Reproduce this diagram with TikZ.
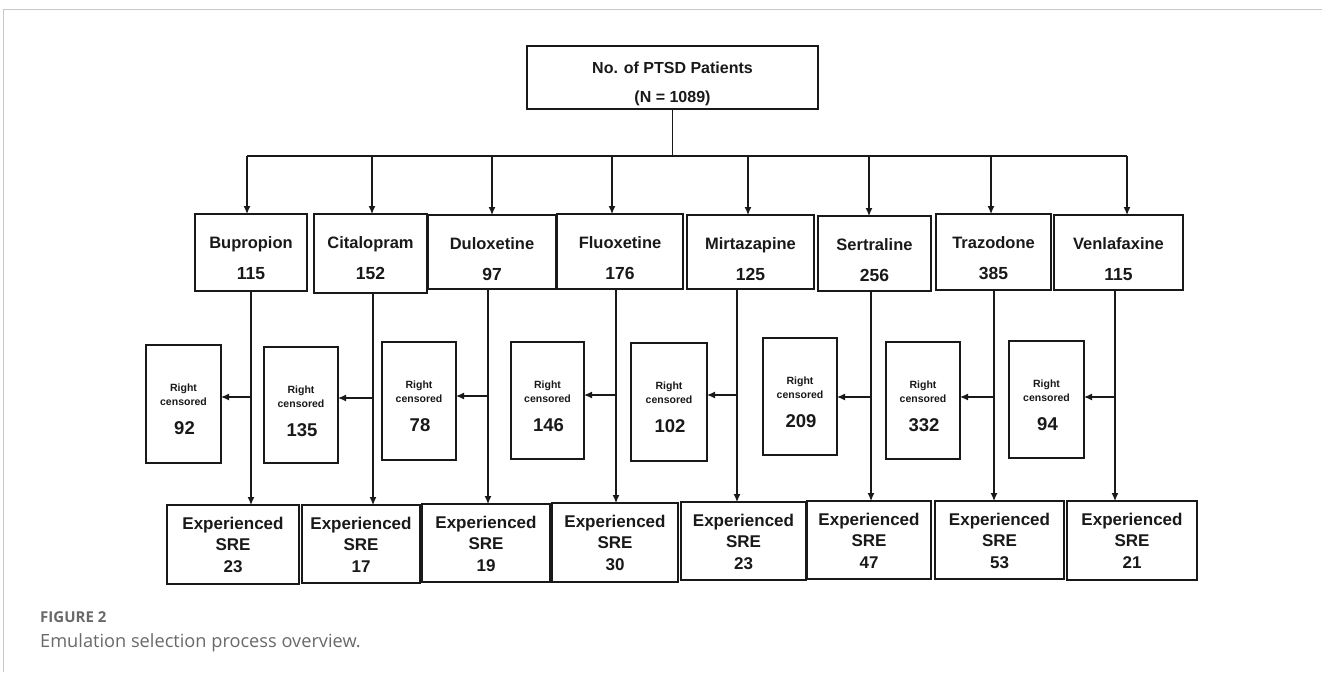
\documentclass[tikz,border=0pt]{standalone}
\usepackage{fontspec}
\setmainfont{Liberation Sans}
\newfontfamily\capfont{Open Sans}
\usetikzlibrary{arrows.meta}
\definecolor{framegray}{RGB}{200,200,200}
\definecolor{capgray}{RGB}{105,105,105}
\definecolor{ink}{RGB}{25,25,25}
\begin{document}
\begin{tikzpicture}[x=1pt,y=-1pt,
  bx/.style={draw=ink, line width=1.8pt, inner sep=0pt, outer sep=0pt},
  conn/.style={draw=ink, line width=1.2pt},
  arr/.style={conn, -{Latex[length=8pt,width=7pt]}},
  tline/.style={anchor=base, inner sep=0pt, text=ink, font=\fontsize{16}{19}\selectfont\bfseries},
  dname/.style={anchor=base, inner sep=0pt, text=ink, font=\fontsize{16.5}{19}\selectfont\bfseries},
  dnum/.style={anchor=base, inner sep=0pt, text=ink, font=\fontsize{17.5}{20}\selectfont\bfseries},
  csmall/.style={anchor=base, inner sep=0pt, text=ink, font=\fontsize{10.5}{12}\selectfont\bfseries},
  cnum/.style={anchor=base, inner sep=0pt, text=ink, font=\fontsize{18.5}{21}\selectfont\bfseries},
  oline/.style={anchor=base, inner sep=0pt, text=ink, font=\fontsize{17}{20}\selectfont\bfseries}
]
\useasboundingbox (0,0) rectangle (1322,672);
% frame
\draw[framegray, line width=1pt] (3.3,672) -- (3.3,9.3) -- (1322,9.3);

% top box
\node[bx, minimum width=291pt, minimum height=63pt] (top) at (672.5,77.5) {};
\node[tline] (topa) at (672.5,73) {No. of PTSD Patients};
\node[tline] (topb) at (672.5,102) {(N = 1089)};

% drug boxes
\foreach \i/\xa/\xb/\ya/\yb/\nm/\nu in {
1/195/307/214/291/Bupropion/115,
2/314/427/214/293/Citalopram/152,
3/428/556/215/289/Duloxetine/97,
4/557/683/214/289/Fluoxetine/176,
5/687/814/215/289/Mirtazapine/125,
6/818/931/216/291/Sertraline/256,
7/936/1051/214/290/Trazodone/385,
8/1054/1183/215/290/Venlafaxine/115}{
  \pgfmathsetmacro\w{\xb-\xa}\pgfmathsetmacro\h{\yb-\ya}
  \pgfmathsetmacro\cx{(\xa+\xb)/2}\pgfmathsetmacro\cy{(\ya+\yb)/2}
  \node[bx, minimum width=\w pt, minimum height=\h pt] (d\i) at (\cx,\cy) {};
  \node[dname] (dn\i) at (\cx,\ya+34) {\nm};
  \node[dnum] (du\i) at (\cx,\ya+65) {\nu};
}

% right censored boxes
\foreach \i/\xa/\xb/\ya/\yb/\nu in {
1/146/221/345/463/92,
2/264/338/347/463/135,
3/382/456/342/460/78,
4/511/584/342/459/146,
5/631/707/343/461/102,
6/763/837/338/455/209,
7/886/960/342/459/332,
8/1009/1084/341/458/94}{
  \pgfmathsetmacro\w{\xb-\xa}\pgfmathsetmacro\h{\yb-\ya}
  \pgfmathsetmacro\cx{(\xa+\xb)/2}\pgfmathsetmacro\cy{(\ya+\yb)/2}
  \node[bx, minimum width=\w pt, minimum height=\h pt] (c\i) at (\cx,\cy) {};
  \node[csmall] (cr\i) at (\cx,\ya+46) {Right};
  \node[csmall] (cc\i) at (\cx,\ya+60) {censored};
  \node[cnum] (cn\i) at (\cx+1,\ya+89) {\nu};
}

% experienced SRE boxes
\foreach \i/\xa/\xb/\ya/\yb/\nu in {
1/167/299/505/584/23,
2/302/420/505/583/17,
3/422/550/504/582/19,
4/552/678/503/582/30,
5/681/806/502/580/23,
6/807/931/501/579/47,
7/935/1064/501/579/53,
8/1067/1197/501/580/21}{
  \pgfmathsetmacro\w{\xb-\xa}\pgfmathsetmacro\h{\yb-\ya}
  \pgfmathsetmacro\cx{(\xa+\xb)/2}\pgfmathsetmacro\cy{(\ya+\yb)/2}
  \node[bx, minimum width=\w pt, minimum height=\h pt] (b\i) at (\cx,\cy) {};
  \node[oline] (be\i) at (\cx,\ya+24) {Experienced};
  \node[oline] (bs\i) at (\cx,\ya+45) {SRE};
  \node[oline] (bn\i) at (\cx,\ya+67) {\nu};
}

% connectors
\foreach \i/\hx/\vx/\ry in {
1/247/251/397, 2/372/373/398, 3/492/488/396, 4/612/616/395,
5/748/737/395, 6/869/871/397, 7/991/994/397, 8/1127/1115/397}{
  \coordinate (h\i) at (\hx,156);
  \coordinate (v\i) at (\vx,\ry);
  \draw[arr] (h\i) -- (h\i |- d\i.north);
  \draw[arr] (v\i |- d\i.south) -- (v\i |- b\i.north);
  \draw[arr] (v\i) -- (v\i -| c\i.east);
}
\draw[conn] (top.south) -- (top.south |- h1);
\draw[conn] (h1) -- (h8);

% caption
\node[anchor=base west, inner sep=0pt, text=capgray, font=\capfont\fontsize{15}{18}\selectfont\bfseries] (figlbl) at (40,622.5) {FIGURE 2};
\node[anchor=base west, inner sep=0pt, text=capgray, font=\capfont\fontsize{18.2}{21}\selectfont] (figcap) at (40,647) {Emulation selection process overview.};
\end{tikzpicture}
\end{document}
